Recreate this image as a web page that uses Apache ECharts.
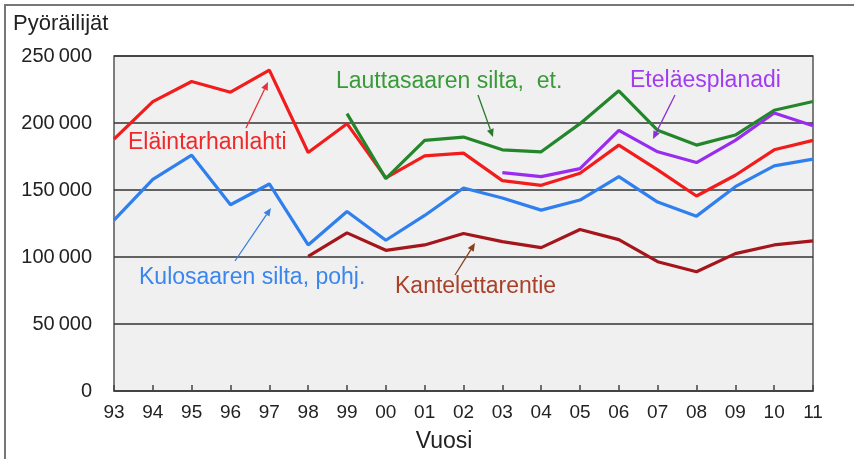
<!DOCTYPE html>
<html>
<head>
<meta charset="utf-8">
<script src="https://cdn.jsdelivr.net/npm/echarts@6/dist/echarts.min.js"></script>
<style>
  html, body { margin: 0; padding: 0; background: #fff; }
  #chart { width: 854px; height: 459px; }
</style>
</head>
<body>
<div id="chart"></div>
<script>
// vuodet 1993-2011
const years = ['93', '94', '95', '96', '97', '98', '99', '00', '01', '02',
  '03', '04', '05', '06', '07', '08', '09', '10', '11']
const yTicks = [0, 50000, 100000, 150000, 200000, 250000]

const elaintarhanlahti = [188000, 216000, 231000, 223000, 239500, 178000, 199500, 159000, 175500, 177500,
  157000, 153500, 162500, 183500, 165000, 145500, 161000, 180000, 187000]
const lauttasaari = [null, null, null, null, null, null, 207000, 158500, 187000, 189500,
  180000, 178500, 199500, 224000, 194500, 183500, 191000, 209500, 216000]
const etelaesplanadi = [null, null, null, null, null, null, null, null, null, null,
  163000, 160000, 166000, 194500, 178500, 170500, 187000, 207500, 198000]
const kulosaari = [127500, 158000, 176000, 139000, 154500, 109000, 134000, 112500, 131000, 151500,
  144000, 135000, 142500, 160000, 141000, 130500, 152500, 168000, 173000]
const kantelettarentie = [null, null, null, null, null, 100500, 118000, 105000, 109000, 117500,
  111500, 107000, 120500, 113000, 96500, 89000, 102500, 109000, 112000]

const chart = echarts.init(document.getElementById('chart'))
const FONT = '"Liberation Sans", Arial, sans-serif'

function line(name, data, color) {
  return {
    name: name,
    type: 'line',
    data: data,
    symbol: 'none',
    connectNulls: false,
    lineStyle: { color: color, width: 3.2 },
    z: 3
  }
}

function arrow(x1, y1, x2, y2, color) {
  const ang = Math.atan2(y2 - y1, x2 - x1)
  const len = 8
  const w = 3.5
  const bx = x2 - len * Math.cos(ang)
  const by = y2 - len * Math.sin(ang)
  const px = -Math.sin(ang) * w
  const py = Math.cos(ang) * w
  return [
    { type: 'line', shape: { x1: x1, y1: y1, x2: bx, y2: by }, style: { stroke: color, lineWidth: 1.3 }, z: 10 },
    { type: 'polygon', shape: { points: [[x2, y2], [bx + px, by + py], [bx - px, by - py]] }, style: { fill: color }, z: 10 }
  ]
}

function label(text, x, y, color) {
  return {
    type: 'text', x: x, y: y, z: 10,
    style: { text: text, fill: color, font: '23px ' + FONT, textVerticalAlign: 'middle' }
  }
}

const option = {
  animation: false,
  grid: { left: 114, right: 41, top: 56, bottom: 68, show: true, backgroundColor: '#f0f0f0', borderColor: '#555', borderWidth: 1.5 },
  xAxis: {
    type: 'category',
    data: years,
    boundaryGap: false,
    axisLine: { lineStyle: { color: '#444', width: 1.5 } },
    axisTick: { inside: true, length: 6, lineStyle: { color: '#444', width: 1.5 } },
    axisLabel: { color: '#222', fontSize: 19, fontFamily: 'Liberation Sans', margin: 12 },
    splitLine: { show: false }
  },
  yAxis: {
    type: 'value',
    min: yTicks[0],
    max: yTicks[yTicks.length - 1],
    interval: 50000,
    axisLine: { show: false },
    axisTick: { show: false },
    axisLabel: {
      color: '#222', fontSize: 20, fontFamily: 'Liberation Sans', margin: 22,
      formatter: v => v === 0 ? '0' : String(v / 1000) + '\u2009000'
    },
    splitLine: { lineStyle: { color: '#333', width: 1.5 } }
  },
  series: [
    line('Kantelettarentie', kantelettarentie, '#a4161c'),
    line('Kulosaaren silta, pohj.', kulosaari, '#2f7fef'),
    line('Eläintarhanlahti', elaintarhanlahti, '#f21c1c'),
    line('Eteläesplanadi', etelaesplanadi, '#9a2cf0'),
    line('Lauttasaaren silta, et.', lauttasaari, '#24862a')
  ],
  graphic: [
    { type: 'rect', shape: { x: 5, y: 5, width: 900, height: 500 }, style: { fill: null, stroke: '#777', lineWidth: 2 }, silent: true },
    {
      type: 'text', x: 13, y: 24,
      style: { text: 'Pyöräilijät', fill: '#222', font: '22px ' + FONT, textVerticalAlign: 'middle' }
    },
    {
      type: 'text', x: 444, y: 442,
      style: { text: 'Vuosi', fill: '#222', font: '23px ' + FONT, textAlign: 'center', textVerticalAlign: 'middle' }
    },
    label('Eläintarhanlahti', 128, 143, '#f0282a'),
    label('Lauttasaaren silta,  et.', 336, 82, '#3a9a3a'),
    label('Eteläesplanadi', 630, 81, '#a23cf0'),
    label('Kulosaaren silta, pohj.', 139, 278, '#3a86ee'),
    label('Kantelettarentie', 395, 287, '#a8402a'),
    ...arrow(246, 128, 268, 82, '#e8303a'),
    ...arrow(235, 261, 271, 208, '#3a80e0'),
    ...arrow(478, 95, 493, 137, '#2a7a2a'),
    ...arrow(675, 95, 653, 139, '#8a30d0'),
    ...arrow(455, 275, 475, 243, '#8a4020')
  ]
}

chart.setOption(option)
</script>
</body>
</html>
